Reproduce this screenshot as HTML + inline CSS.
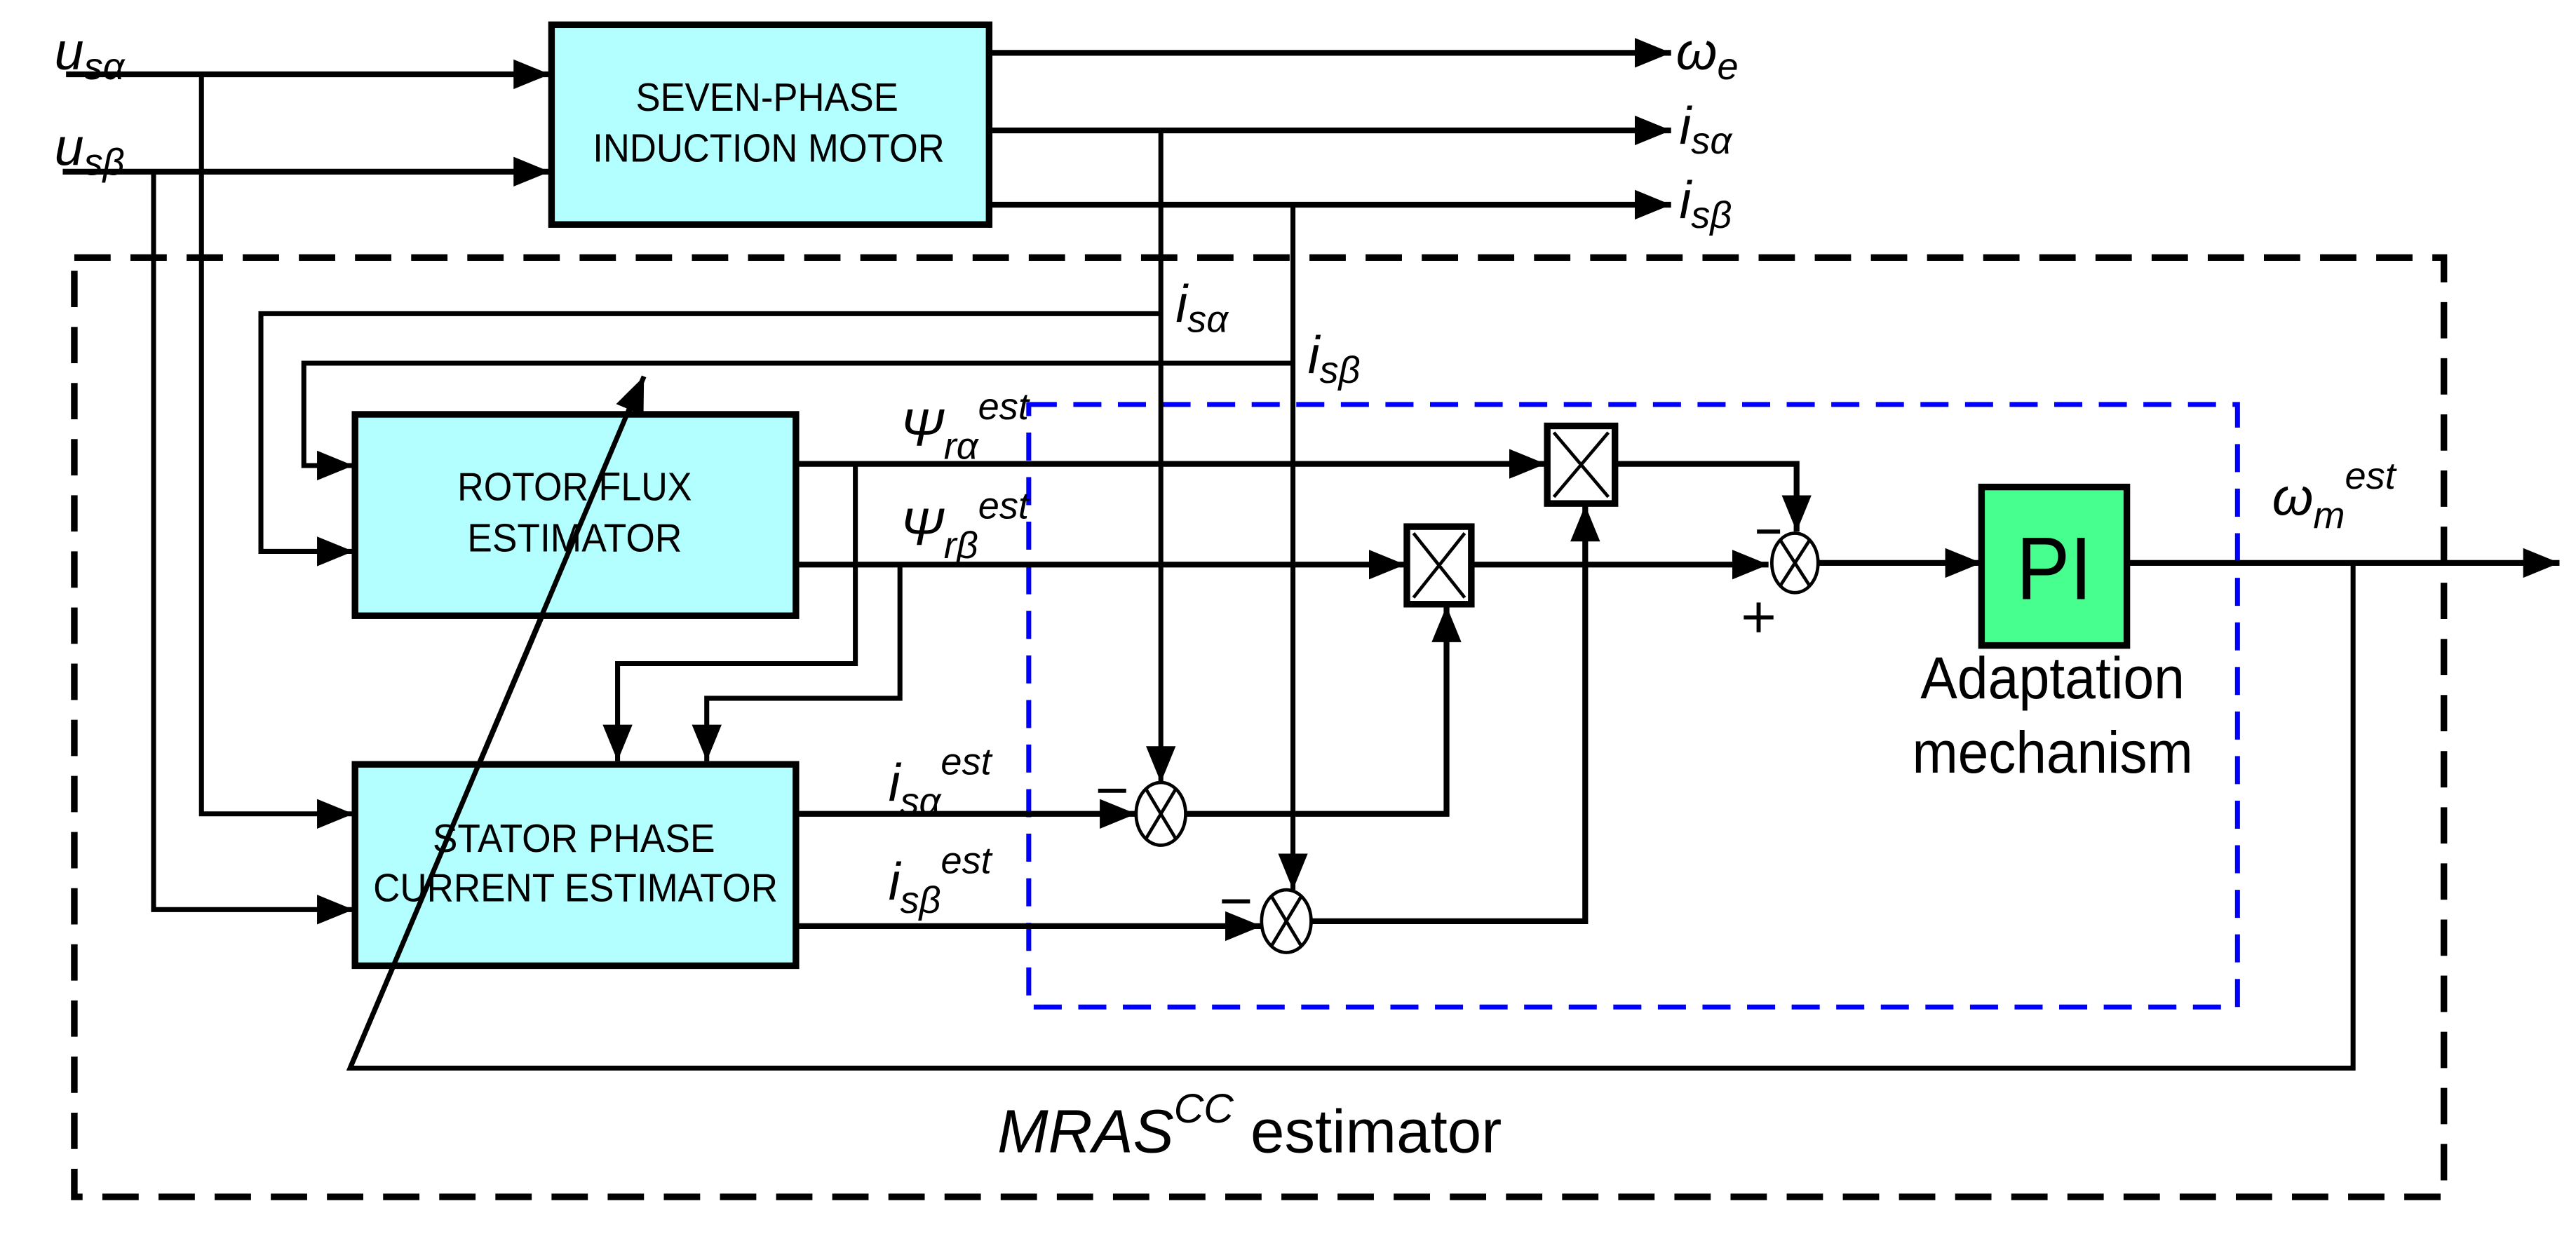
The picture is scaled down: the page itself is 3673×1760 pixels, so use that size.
<!DOCTYPE html>
<html><head><meta charset="utf-8"><style>
html,body{margin:0;padding:0;background:#fff;}
svg{display:block;}
text{font-family:"Liberation Sans",sans-serif;}
.it{font-style:italic;}
</style></head><body>
<svg width="3673" height="1760" viewBox="0 0 1560 747.5" preserveAspectRatio="none" xmlns="http://www.w3.org/2000/svg">
<defs>
<marker id="a" markerUnits="userSpaceOnUse" markerWidth="24" markerHeight="20" refX="22" refY="9" orient="auto" viewBox="0 0 24 18">
<path d="M0,0 L22,9 L0,18 z" fill="#000"/></marker>
</defs>
<rect width="1560" height="747.5" fill="#fff"/>
<rect x="45" y="156" width="1435" height="569" fill="none" stroke="#000" stroke-width="4" stroke-dasharray="22 12"/>
<rect x="623" y="245" width="732" height="365" fill="none" stroke="#0000ff" stroke-width="3" stroke-dasharray="17 10"/>
<g fill="none" stroke="#000" stroke-width="3.5">
<path d="M40,45 H333" marker-end="url(#a)"/>
<path d="M38,104 H333" marker-end="url(#a)"/>
<path d="M599,32 H1012" marker-end="url(#a)"/>
<path d="M599,79 H1012" marker-end="url(#a)"/>
<path d="M599,124 H1012" marker-end="url(#a)"/>
<path d="M483,281 H936" marker-end="url(#a)"/>
<path d="M483,342 H851" marker-end="url(#a)"/>
<path d="M483,493 H688" marker-end="url(#a)"/>
<path d="M483,561 H764" marker-end="url(#a)"/>
<path d="M718,493 H876 V367" marker-end="url(#a)"/>
<path d="M794,558 H960 V306" marker-end="url(#a)"/>
<path d="M978,281 H1088 V322" marker-end="url(#a)"/>
<path d="M891,342 H1071" marker-end="url(#a)"/>
<path d="M1101,341 H1200" marker-end="url(#a)"/>
<path d="M1288,341 H1550" marker-end="url(#a)"/>
</g>
<g fill="none" stroke="#000" stroke-width="3">
<path d="M122,45 V493 H214" marker-end="url(#a)"/>
<path d="M93,104 V551 H214" marker-end="url(#a)"/>
<path d="M703,79 V474" marker-end="url(#a)"/>
<path d="M783,124 V539" marker-end="url(#a)"/>
<path d="M703,190 H158 V334 H214" marker-end="url(#a)"/>
<path d="M783,220 H184 V282 H214" marker-end="url(#a)"/>
<path d="M518,281 V402 H374 V461" marker-end="url(#a)"/>
<path d="M545,342 V423 H428 V461" marker-end="url(#a)"/>
<path d="M1425,341 V647 H212 L390,228" marker-end="url(#a)"/>
</g>
<rect x="334" y="15" width="265" height="121" fill="#b3ffff" stroke="#000" stroke-width="4"/>
<rect x="215" y="251" width="267" height="122" fill="#b3ffff" stroke="#000" stroke-width="4"/>
<rect x="215" y="463" width="267" height="122" fill="#b3ffff" stroke="#000" stroke-width="4"/>
<rect x="1200" y="295" width="88" height="96" fill="#47ff8f" stroke="#000" stroke-width="4"/>
<path d="M212,647 L386,236" stroke="#000" stroke-width="3" fill="none"/>
<g fill="#fff" stroke="#000" stroke-width="4">
<rect x="937" y="258" width="41" height="47"/>
<rect x="852" y="319" width="39" height="47"/>
</g>
<g stroke="#000" stroke-width="2" fill="none">
<path d="M941,262 L974,301 M974,262 L941,301"/>
<path d="M856,323 L887,362 M887,323 L856,362"/>
<ellipse cx="1087" cy="341" rx="14" ry="18" fill="#fff"/>
<path d="M1078,327 L1096,355 M1096,327 L1078,355"/>
<ellipse cx="703" cy="493" rx="15" ry="19" fill="#fff"/>
<path d="M694,478 L712,508 M712,478 L694,508"/>
<ellipse cx="779" cy="558" rx="15" ry="19" fill="#fff"/>
<path d="M770,543 L788,573 M788,543 L770,573"/>
</g>
<g stroke="#000" stroke-width="2.5">
<path d="M1064,322 H1078"/>
<path d="M1056,374 H1074 M1065,365 V383"/>
<path d="M665,479 H682"/>
<path d="M740,546 H757"/>
</g>
<g font-size="24" fill="#000">
<text x="385" y="67" textLength="159" lengthAdjust="spacingAndGlyphs">SEVEN-PHASE</text>
<text x="359" y="98" textLength="213" lengthAdjust="spacingAndGlyphs">INDUCTION MOTOR</text>
<text x="277" y="303" textLength="142" lengthAdjust="spacingAndGlyphs">ROTOR FLUX</text>
<text x="283" y="334" textLength="130" lengthAdjust="spacingAndGlyphs">ESTIMATOR</text>
<text x="262" y="516" textLength="171" lengthAdjust="spacingAndGlyphs">STATOR PHASE</text>
<text x="226" y="546" textLength="245" lengthAdjust="spacingAndGlyphs">CURRENT ESTIMATOR</text>
</g>
<text x="1221" y="363" font-size="54" textLength="46" lengthAdjust="spacingAndGlyphs">PI</text>
<text x="1163" y="423" font-size="36" textLength="160" lengthAdjust="spacingAndGlyphs">Adaptation</text>
<text x="1158" y="468" font-size="36" textLength="170" lengthAdjust="spacingAndGlyphs">mechanism</text>
<text x="604" y="698" font-size="37"><tspan class="it">MRAS</tspan><tspan class="it" font-size="25" dy="-18">CC</tspan><tspan dy="18"> estimator</tspan></text>
<g font-size="32" class="it" fill="#000">
<text x="33" y="42" class="it">u<tspan font-size="23" dy="6">sα</tspan></text>
<text x="33" y="100" class="it">u<tspan font-size="23" dy="6">sβ</tspan></text>
<text x="1015" y="42" class="it">ω<tspan font-size="23" dy="6">e</tspan></text>
<text x="1017" y="87" class="it">i<tspan font-size="23" dy="6">sα</tspan></text>
<text x="1017" y="132" class="it">i<tspan font-size="23" dy="6">sβ</tspan></text>
<text x="712" y="195" class="it">i<tspan font-size="23" dy="6">sα</tspan></text>
<text x="792" y="226" class="it">i<tspan font-size="23" dy="6">sβ</tspan></text>
<text x="545" y="270" class="it">Ψ<tspan font-size="23" dy="8">rα</tspan><tspan font-size="23" dy="-24">est</tspan></text>
<text x="545" y="330" class="it">Ψ<tspan font-size="23" dy="8">rβ</tspan><tspan font-size="23" dy="-24">est</tspan></text>
<text x="538" y="485" class="it">i<tspan font-size="23" dy="8">sα</tspan><tspan font-size="23" dy="-24">est</tspan></text>
<text x="538" y="545" class="it">i<tspan font-size="23" dy="8">sβ</tspan><tspan font-size="23" dy="-24">est</tspan></text>
<text x="1376" y="312" class="it">ω<tspan font-size="23" dy="8">m</tspan><tspan font-size="23" dy="-24">est</tspan></text>
</g>
</svg>
</body></html>
